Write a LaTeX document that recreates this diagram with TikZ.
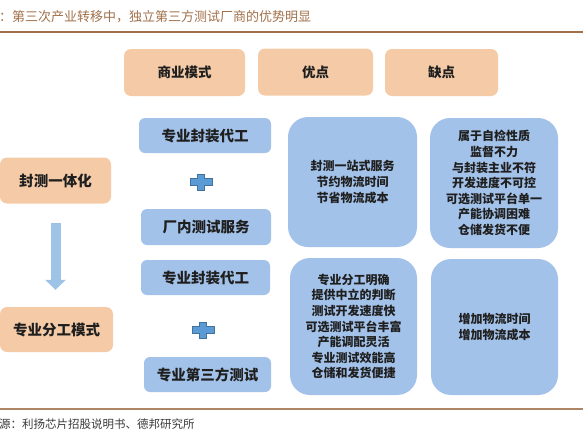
\documentclass[tikz,border=0pt]{standalone}
\usepackage{fontspec}
\newfontfamily\cjk{Noto Sans CJK SC}
\usetikzlibrary{positioning, arrows.meta}
\definecolor{modePeach}{HTML}{F5CBA7}
\definecolor{modeBlue}{HTML}{A3C2E9}
\definecolor{plusBlue}{HTML}{5B9BD5}
\definecolor{plusEdge}{HTML}{41719C}
\definecolor{arrowBlue}{HTML}{9DC3E6}
\definecolor{ruleBrown}{HTML}{A0704A}
\definecolor{inkDark}{HTML}{1F1F1F}
\definecolor{sourceGray}{HTML}{3A3A3A}

\begin{document}
\begin{tikzpicture}[
  x=1pt, y=-1pt,
  every node/.style={font=\cjk, text=inkDark, inner sep=0pt},
  head/.style={
    rectangle, rounded corners=7pt,
    fill=modePeach, minimum height=47pt,
    font=\cjk\bfseries\fontsize{13.5}{16}\selectfont
  },
  stage/.style={
    rectangle, rounded corners=7pt,
    fill=modePeach, minimum height=46pt,
    font=\cjk\bfseries\fontsize{14.5}{17}\selectfont
  },
  mode/.style={
    rectangle, rounded corners=6pt,
    fill=modeBlue, minimum height=35pt,
    font=\cjk\bfseries\fontsize{14.5}{17}\selectfont
  },
  note/.style={
    rectangle, rounded corners=20pt,
    fill=modeBlue, align=center,
    font=\cjk\bfseries\fontsize{12}{15.6}\selectfont
  },
  plussign/.style={
    minimum width=24pt, minimum height=18pt,
    path picture={
      \path[fill=plusBlue, draw=plusEdge, line width=0.6pt]
        (path picture bounding box.center) ++(-3.5,-8) -- ++(7,0) -- ++(0,4.5)
        -- ++(7.5,0) -- ++(0,7) -- ++(-7.5,0) -- ++(0,4.5) -- ++(-7,0)
        -- ++(0,-4.5) -- ++(-7.5,0) -- ++(0,-7) -- ++(7.5,0) -- cycle;
    }
  },
  flow/.style={
    arrowBlue, line width=10pt,
    -{Triangle[width=20pt, length=10pt]},
    shorten <=19pt, shorten >=17pt
  },
]
\useasboundingbox (0,0) rectangle (583,437);

% Title and rules
\node[anchor=west, text=ruleBrown, font=\cjk\fontsize{13}{15}\selectfont] (title) at (-1,17)
  {：第三次产业转移中，独立第三方测试厂商的优势明显};
\draw[ruleBrown, line width=1.5pt] (0,32) -- (583,32);
\draw[ruleBrown!85, line width=1.2pt] (0,409) -- (583,409);

% Header nodes
\node[head, minimum width=121pt] (h1) at (184.5,72.5) {商业模式};
\node[head, minimum width=115pt] (h2) at (315.5,72) {优点};
\node[head, minimum width=113pt] (h3) at (441.5,72.5) {缺点};

% Stages
\node[stage, minimum width=111pt] (integ) at (55.5,180.5) {封测一体化};
\node[stage, minimum width=113pt, minimum height=45pt] (divis) at (56.5,329.5) {专业分工模式};

\draw[flow] (integ.south) -- (integ.south |- divis.north);

% Business modes
\node[mode, minimum width=132pt] (m1) at (205,135.5) {专业封装代工};
\node[plussign] (p1) at (201,182) {};
\node[mode, minimum width=130pt, minimum height=36pt] (m2) at (206,227) {厂内测试服务};

\node[mode, minimum width=129pt] (m3) at (205.5,277.5) {专业封装代工};
\node[plussign] (p2) at (203,330) {};
\node[mode, minimum width=127pt] (m4) at (207.5,374.5) {专业第三方测试};

% Pros and cons
\node[note, minimum width=129pt, minimum height=130pt] (pro1) at (352.5,182) {
  封测一站式服务\\节约物流时间\\节省物流成本
};
\node[note, minimum width=128pt, minimum height=130pt] (con1) at (494,183) {
  属于自检性质\\监督不力\\与封装主业不符\\开发进度不可控\\
  可选测试平台单一\\产能协调困难\\仓储发货不便
};
\node[note, minimum width=127pt, minimum height=137pt] (pro2) at (353.5,326.5) {
  专业分工明确\\提供中立的判断\\测试开发速度快\\可选测试平台丰富\\
  产能调配灵活\\专业测试效能高\\仓储和发货便捷
};
\node[note, minimum width=127pt, minimum height=136pt] (con2) at (494.5,327) {
  增加物流时间\\增加物流成本
};

% Source
\node[anchor=west, text=sourceGray, font=\cjk\fontsize{11.5}{13}\selectfont] (source) at (-1,424)
  {源：利扬芯片招股说明书、德邦研究所};

\end{tikzpicture}
\end{document}
